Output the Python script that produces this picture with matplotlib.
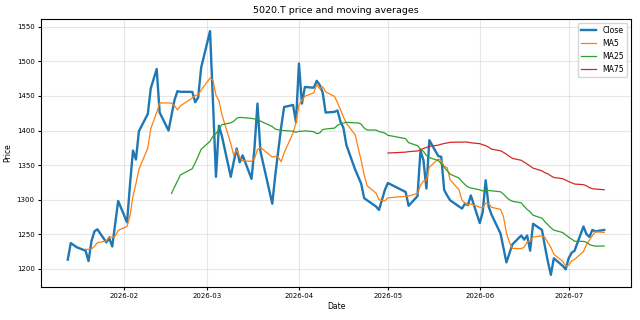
import numpy as np
import pandas as pd
import matplotlib
matplotlib.use("Agg")
import matplotlib.pyplot as plt

# trading calendar (Tokyo): weekdays minus exchange holidays
start_date = "2026-01-13"
end_date = "2026-07-13"
holidays = ["2026-02-11", "2026-02-23", "2026-03-20", "2026-04-29",
            "2026-05-04", "2026-05-05", "2026-05-06"]

close_jan = [1213, 1237, 1234, 1231, 1226, 1211, 1240, 1254, 1257, 1238,
             1244, 1232, 1265, 1298]
close_feb = [1267, 1322, 1371, 1358, 1399, 1424, 1461, 1489, 1426, 1400,
             1422, 1444, 1457, 1456, 1456, 1441, 1448, 1491]
close_mar = [1544, 1440, 1333, 1407, 1392, 1333, 1355, 1374, 1354, 1364,
             1330, 1375, 1439, 1370, 1294, 1335, 1370, 1405, 1434, 1437, 1412]
close_apr = [1497, 1439, 1463, 1462, 1472, 1466, 1455, 1426, 1427, 1429,
             1413, 1404, 1379, 1343, 1333, 1323, 1302, 1299, 1290, 1285, 1314]
close_may = [1324, 1311, 1291, 1305, 1371, 1357, 1316, 1386, 1363, 1362,
             1314, 1306, 1299, 1290, 1287, 1294, 1292, 1306]
close_jun = [1266, 1282, 1328, 1290, 1278, 1251, 1230, 1209, 1222, 1235,
             1248, 1242, 1248, 1226, 1265, 1256, 1232, 1210, 1191, 1215,
             1204, 1199]
close_jul = [1215, 1223, 1226, 1261, 1250, 1246, 1256, 1254, 1256]

dates = pd.bdate_range(start_date, end_date)
dates = dates[~dates.isin(pd.to_datetime(holidays))]

close = pd.Series(close_jan + close_feb + close_mar + close_apr + close_may
                  + close_jun + close_jul, index=dates, dtype=float)

# moving averages
ma5 = close.rolling(5).mean()
ma25 = close.rolling(25).mean()
ma75 = close.rolling(75).mean()

fig, ax = plt.subplots(figsize=(6.4, 3.2), dpi=100)
ax.plot(close.index, close.values, label="Close", linewidth=1.7)
ax.plot(ma5.index, ma5.values, label="MA5", linewidth=0.9)
ax.plot(ma25.index, ma25.values, label="MA25", linewidth=0.9)
ax.plot(ma75.index, ma75.values, label="MA75", linewidth=0.9)

ax.set_title("5020.T price and moving averages", fontsize=6.8, pad=4)
ax.set_xlabel("Date", fontsize=5.5, labelpad=2)
ax.set_ylabel("Price", fontsize=5.5, labelpad=3)
ax.tick_params(labelsize=5, length=2.5, pad=2)
ax.grid(True, alpha=0.3)
ax.legend(loc="upper right", fontsize=5.6)

fig.subplots_adjust(left=0.064, right=0.986, top=0.941, bottom=0.103)
fig.savefig("out.png", dpi=100)
